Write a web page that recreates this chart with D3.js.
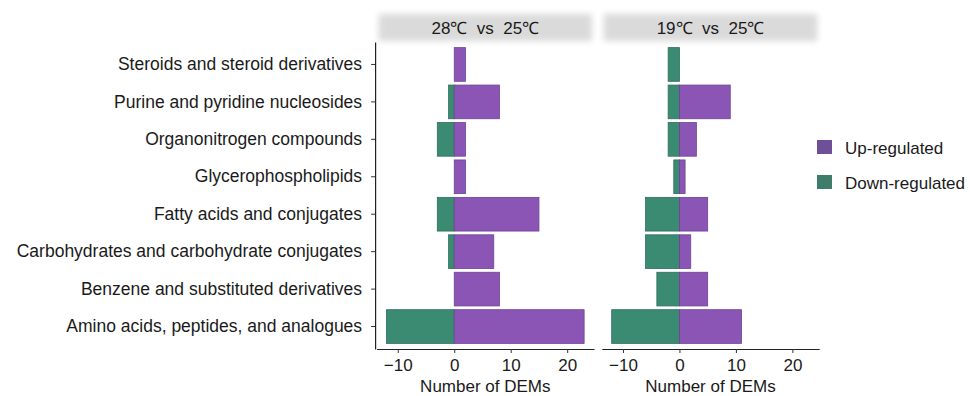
<!DOCTYPE html>
<html>
<head>
<meta charset="utf-8">
<script src="https://cdn.jsdelivr.net/npm/d3@7"></script>
<style>
  body { margin: 0; background: #fff; }
  text { font-family: "Liberation Sans", Arial, sans-serif; fill: #1a1a1a; }
</style>
</head>
<body>
<svg id="chart"></svg>
<script>
// categories, bottom to top
const categories = [
  "Amino acids, peptides, and analogues",
  "Benzene and substituted derivatives",
  "Carbohydrates and carbohydrate conjugates",
  "Fatty acids and conjugates",
  "Glycerophospholipids",
  "Organonitrogen compounds",
  "Purine and pyridine nucleosides",
  "Steroids and steroid derivatives"
];
const panels = ["28℃  vs  25℃", "19℃  vs  25℃"];
// counts per panel, same order as categories
const up28 = [23, 8, 7, 15, 2, 2, 8, 2];
const down28 = [-12, 0, -1, -3, 0, -3, -1, 0];
const up19 = [11, 5, 2, 5, 1, 3, 9, 0];
const down19 = [-12, -4, -6, -6, -1, -2, -2, -2];
const xTicks = [-10, 0, 10, 20];
const legendItems = ["Up-regulated", "Down-regulated"];

const W = 970, H = 396;
const svg = d3.select("#chart").attr("width", W).attr("height", H);

const colUp = "#8b55b6", colDown = "#3b8a72";
const legCol = { "Up-regulated": "#6f4f98", "Down-regulated": "#3f7d6a" };

const panelLeft = [376.6, 601.8];
const panelW = 217.4;
const plotTop = 42, plotBottom = 349;
const fontFam = "'Liberation Sans', Arial, sans-serif";

const panelData = [
  { up: up28, down: down28 },
  { up: up19, down: down19 }
];

// shared x domain with ggplot-like 5% expansion
const lo = d3.min([...down28, ...down19]), hi = d3.max([...up28, ...up19]);
const pad = (hi - lo) * 0.05;

// discrete axis: 0.6 step expansion on each side, bars 0.9 wide
const yScale = d3.scaleBand()
  .domain(categories.slice().reverse())
  .range([plotTop, plotBottom])
  .paddingInner(0.1)
  .paddingOuter(0.15);

const defs = svg.append("defs");
const blur = defs.append("filter").attr("id", "soft").attr("x", "-10%").attr("y", "-30%")
  .attr("width", "120%").attr("height", "160%");
blur.append("feGaussianBlur").attr("stdDeviation", 3);

panels.forEach((title, i) => {
  const x = d3.scaleLinear()
    .domain([lo - pad, hi + pad])
    .range([panelLeft[i], panelLeft[i] + panelW]);

  // strip
  svg.append("rect")
    .attr("x", panelLeft[i] + 2).attr("y", 14)
    .attr("width", panelW - 4).attr("height", 27)
    .attr("fill", "#dadada")
    .attr("filter", "url(#soft)");
  svg.append("text")
    .attr("x", panelLeft[i] + panelW / 2).attr("y", 34)
    .attr("text-anchor", "middle")
    .style("font-size", "17px")
    .style("white-space", "pre")
    .attr("xml:space", "preserve")
    .text(title);

  const g = svg.append("g");
  const d = panelData[i];
  const rows = categories.map((c, k) => ({ cat: c, up: d.up[k], down: d.down[k] }));

  g.selectAll(".down").data(rows.filter(r => r.down < 0)).join("rect")
    .attr("x", r => x(r.down))
    .attr("y", r => yScale(r.cat))
    .attr("width", r => x(0) - x(r.down))
    .attr("height", yScale.bandwidth())
    .attr("fill", colDown)
    .attr("stroke", "#2e6e5b").attr("stroke-width", 0.8);

  g.selectAll(".up").data(rows.filter(r => r.up > 0)).join("rect")
    .attr("x", x(0))
    .attr("y", r => yScale(r.cat))
    .attr("width", r => x(r.up) - x(0))
    .attr("height", yScale.bandwidth())
    .attr("fill", colUp)
    .attr("stroke", "#6e4392").attr("stroke-width", 0.8);

  // x axis
  const xa = svg.append("g")
    .attr("transform", `translate(0,${plotBottom})`)
    .call(d3.axisBottom(x).tickValues(xTicks).tickSize(4).tickSizeOuter(0).tickPadding(4)
      .tickFormat(v => v < 0 ? "\u2212" + Math.abs(v) : v));
  xa.select(".domain").attr("stroke", "#222").attr("stroke-width", 1.2);
  xa.selectAll(".tick line").attr("stroke", "#333");
  xa.selectAll(".tick text").style("font-size", "17px").attr("dy", "0.8em")
    .style("font-family", fontFam).attr("fill", "#333");

  svg.append("text")
    .attr("x", panelLeft[i] + panelW / 2).attr("y", 392)
    .attr("text-anchor", "middle")
    .style("font-size", "17px")
    .text("Number of DEMs");

  if (i === 0) {
    const ya = svg.append("g")
      .attr("transform", `translate(${panelLeft[0] - 1.5},0)`)
      .call(d3.axisLeft(yScale).tickSize(4).tickSizeOuter(0).tickPadding(9));
    ya.select(".domain").attr("stroke", "#222").attr("stroke-width", 1.2);
    ya.selectAll(".tick line").attr("stroke", "#333");
    ya.selectAll(".tick text").style("font-size", "17.5px")
      .style("font-family", fontFam).attr("fill", "#1a1a1a");
  }
});

// legend
const leg = svg.append("g");
legendItems.forEach((name, k) => {
  const y0 = 140 + k * 35;
  leg.append("rect")
    .attr("x", 817).attr("y", y0).attr("width", 15).attr("height", 14)
    .attr("fill", legCol[name]);
  leg.append("text")
    .attr("x", 845).attr("y", y0 + 14)
    .style("font-size", "17px")
    .text(name);
});
</script>
</body>
</html>
